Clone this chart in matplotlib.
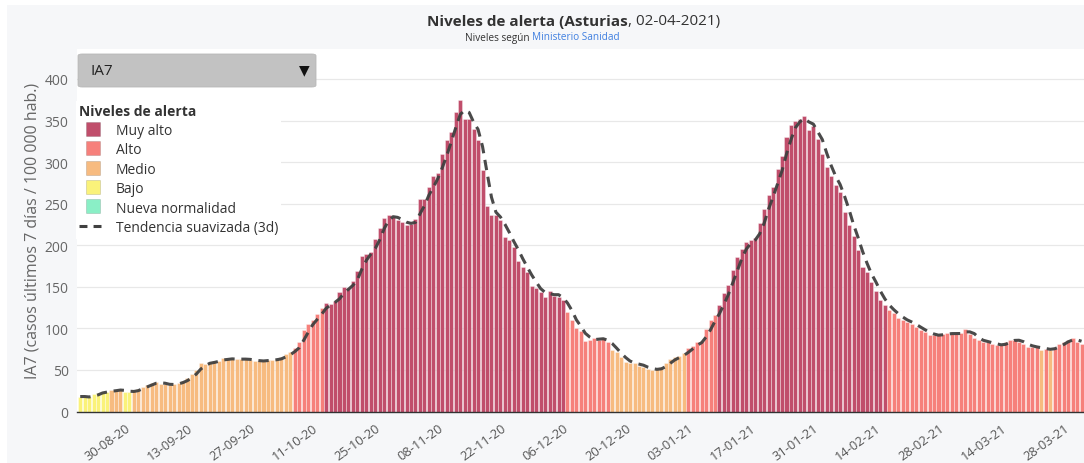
import numpy as np
import pandas as pd
import matplotlib
matplotlib.use("Agg")
import matplotlib.pyplot as plt
from matplotlib.patches import Rectangle, FancyBboxPatch
from matplotlib.lines import Line2D

plt.rcParams['font.family'] = ['Open Sans', 'DejaVu Sans']

# Daily IA7 values, 20-08-2020 .. 01-04-2021
dates = pd.date_range('2020-08-20', '2021-04-01', freq='D')
ia7 = [18, 17.5, 17, 21, 22, 24, 24, 25.3, 25.8, 26.3,
       24, 23, 25.4, 27, 30, 32, 34, 36, 33.5, 32.5,
       32, 33, 34.5, 37, 40, 45, 50.5, 58, 57, 59,
       61, 61, 64, 63, 63, 63, 63, 63, 62, 61,
       60.5, 61, 62, 62, 63, 65, 69, 71, 76, 83,
       98, 105, 110, 117, 124, 131, 129.5, 133.5, 143.5, 149.5,
       148, 157.5, 169.5, 186.5, 189, 192, 207, 220.5, 232.5, 236,
       234.5, 230, 228.5, 224.5, 226, 232, 255, 255.5, 270, 283.5,
       287, 309.5, 327, 336.5, 360, 375, 352, 352, 340, 326,
       290, 247, 236, 236, 230, 210, 206, 197.5, 180.5, 173.5,
       167.5, 151.5, 148.5, 143.5, 137.5, 144.5, 139.5, 137.5, 134, 120,
       110.5, 100, 97, 85, 86.5, 88, 86.5, 88, 83, 74.5,
       71, 65, 59, 58, 58, 55, 54, 51, 50, 51,
       53, 58, 63, 65, 66.5, 70.5, 76, 79, 84, 85,
       99.5, 110.5, 115.5, 127.5, 143, 152, 170, 186, 196, 204,
       206, 208.5, 227, 244, 260, 270, 292, 307, 330, 344,
       350, 351.5, 355.5, 338, 343.5, 328, 310, 294, 283, 272,
       264, 240, 224, 210.5, 194, 174, 167.5, 155.5, 144.5, 134.5,
       127.5, 122, 118, 113, 110, 107.5, 105.5, 101.5, 97.5, 96,
       92, 91.5, 92, 93.5, 94, 93.5, 93.5, 94.5, 99.5, 93.5,
       88, 85.5, 83.5, 83.5, 81.5, 79.5, 79.5, 83.5, 86.5, 86.5,
       84, 81.5, 77.5, 78, 77.5, 74.5, 75.5, 74.5, 76.5, 81.5,
       83.5, 86.5, 88, 84, 81.5]

# Smoothed trend (3d)
trend = [18, 18, 17.5, 18.5, 20, 22.3, 23.3, 24.4, 25, 25.8,
         25.4, 24.4, 24.1, 25.1, 27.5, 29.7, 32, 34, 34.5, 34,
         32.7, 32.5, 33.2, 34.8, 37.2, 40.7, 45.2, 51.2, 55.2, 58,
         59, 60.3, 62, 62.7, 63.3, 63, 63, 63, 62.7, 62,
         61.2, 60.8, 61.2, 61.7, 62.3, 63.3, 65.7, 68.3, 72, 76.7,
         85.7, 95.3, 104.3, 110.7, 117, 124, 128.2, 131.3, 135.5, 142.2,
         147, 151.7, 158.3, 171.2, 181.7, 189.2, 196, 206.5, 220, 229.7,
         234.3, 233.5, 231, 227.7, 226.3, 227.5, 237.7, 247.5, 260.2, 269.7,
         280.2, 293.3, 307.8, 324.2, 341.2, 357.2, 362.3, 359.7, 348, 339.3,
         318.7, 287.7, 257.7, 239.7, 234, 225.3, 215.3, 204.5, 194.7, 183.8,
         173.8, 164.2, 155.8, 147.8, 143.2, 141.8, 140.5, 140.5, 137, 130.5,
         121.5, 110.2, 102.5, 94, 89.5, 86.5, 87, 87.5, 85.8, 81.8,
         76.2, 70.2, 65, 60.7, 58.3, 57, 55.7, 53.3, 51.7, 50.7,
         51.3, 54, 58, 62, 64.8, 67.3, 71, 75.2, 79.7, 82.7,
         89.5, 98.3, 108.5, 117.8, 128.7, 140.8, 155, 169.3, 184, 195.3,
         202, 206.2, 213.8, 226.5, 243.7, 258, 274, 289.7, 309.7, 327,
         341.3, 348.5, 352.3, 348.3, 345.7, 336.5, 327.2, 310.7, 295.7, 283,
         273, 258.7, 242.7, 224.8, 209.5, 192.8, 178.5, 165.7, 155.8, 144.8,
         135.5, 128, 122.5, 117.7, 113.7, 110.2, 107.7, 104.8, 101.5, 98.3,
         95.2, 93.2, 91.8, 92.3, 93.2, 93.7, 93.7, 93.8, 95.8, 95.8,
         93.7, 89, 85.7, 84.2, 82.8, 81.5, 80.2, 80.8, 83.2, 85.5,
         85.7, 84, 81, 79, 77.7, 76.7, 75.8, 74.8, 75.5, 77.5,
         80.5, 83.8, 86, 86.2, 84.5]

levels = ['Muy alto', 'Alto', 'Medio', 'Bajo', 'Nueva normalidad']
level_colors = ['#c04e6b', '#f6807b', '#f7bb80', '#faf27a', '#8aefc6']
thresholds = [10, 25, 75, 125]  # IA7 limits (Ministerio Sanidad)

tick_labels = ['30-08-20', '13-09-20', '27-09-20', '11-10-20', '25-10-20', '08-11-20',
               '22-11-20', '06-12-20', '20-12-20', '03-01-21', '17-01-21', '31-01-21',
               '14-02-21', '28-02-21', '14-03-21', '28-03-21']

W, H = 1084, 464
fig = plt.figure(figsize=(W / 100, H / 100), dpi=100, facecolor='white')

# light gray container behind everything
fig.patches.append(Rectangle((7 / W, 0), 1 - 7 / W, 1 - 6 / H, transform=fig.transFigure,
                             facecolor='#f6f7f9', edgecolor='none', zorder=-10))

ax = fig.add_axes([77 / W, (H - 412.5) / H, (W - 77) / W, (412.5 - 50) / H])
ax.set_facecolor('white')

x = np.arange(len(dates))
vals = np.array(ia7)
idx = np.digitize(vals, thresholds)          # 0 = nueva normalidad ... 4 = muy alto
bar_colors = [level_colors[::-1][k] for k in idx]
ax.bar(x, vals, width=0.9, color=bar_colors, edgecolor=(1, 1, 1, 0.4), lw=0.6, zorder=2)
ax.plot(x, trend, color='#404040', lw=2.2, dashes=(3.4, 2.2), zorder=3, alpha=0.95)

ax.set_xlim(-0.72, len(dates) - 0.45)
ax.set_ylim(0, 436)
ax.set_yticks(np.arange(0, 401, 50))
ax.grid(axis='y', color='#e8e8e8', lw=0.9, zorder=0)
ax.set_axisbelow(True)
for s in ['top', 'right', 'left']:
    ax.spines[s].set_visible(False)
ax.spines['bottom'].set_color('#333333')
ax.spines['bottom'].set_linewidth(1.0)
ax.spines['bottom'].set_zorder(4)

tick_pos = [list(dates.strftime('%d-%m-%y')).index(t) for t in tick_labels]
ax.set_xticks(tick_pos)
ax.set_xticklabels(tick_labels, rotation=36, ha='right', rotation_mode='anchor',
                   fontsize=9.3, color='#555555')
ax.tick_params(axis='x', length=0, pad=7)
ax.tick_params(axis='y', length=0, pad=6, labelsize=10, labelcolor='#666666')
ax.set_ylabel('IA7 (casos últimos 7 días / 100 000 hab.)', fontsize=11.5, color='#666666',
              labelpad=3)

# title and subtitle
fig.text(628 / W, 1 - 22 / H, 'Niveles de alerta (Asturias', ha='right', va='center',
         fontsize=11, fontweight='bold', color='#333333')
fig.text(628 / W, 1 - 22 / H, ', 02-04-2021)', ha='left', va='center',
         fontsize=11, color='#333333')
fig.text(532 / W, 1 - 38 / H, 'Niveles según ', ha='right', va='center',
         fontsize=7.2, color='#333333')
fig.text(532 / W, 1 - 38 / H, 'Ministerio Sanidad', ha='left', va='center',
         fontsize=7.2, color='#3f7fe0')

# dropdown box
fig.patches.append(FancyBboxPatch((78 / W, 1 - 88 / H), 238 / W, 33 / H,
                                  boxstyle='round,pad=0,rounding_size=0.004',
                                  transform=fig.transFigure, facecolor='#c2c2c2',
                                  edgecolor='#b8b8b8', lw=0.6, zorder=5))
fig.text(90 / W, 1 - 71.5 / H, 'IA7', ha='left', va='center', fontsize=11, color='#222222',
         zorder=6)
fig.text(304 / W, 1 - 70 / H, '▼', ha='center', va='center', fontsize=10, color='#111111',
         family=['DejaVu Sans'], zorder=6)

# legend
handles = [Line2D([], [], ls='none', marker='s', markersize=9.5, markerfacecolor=c,
                  markeredgecolor='#00000025', markeredgewidth=0.6) for c in level_colors]
handles.append(Line2D([], [], color='#404040', lw=2.2, dashes=(2.6, 2.0)))
leg = ax.legend(handles, levels + ['Tendencia suavizada (3d)'],
                title='Niveles de alerta', loc='upper left',
                bbox_to_anchor=(76 / W, 1 - 102 / H), bbox_transform=fig.transFigure,
                fontsize=10, frameon=True, facecolor='white', edgecolor='none',
                framealpha=1, fancybox=False, handlelength=2.0, handleheight=0.9,
                handletextpad=0.6, labelspacing=0.32, borderpad=0.25, borderaxespad=0)
leg.get_title().set_fontweight('bold')
leg.get_title().set_fontsize(10)
leg.get_title().set_color('#333333')
leg._legend_box.align = 'left'
for t in leg.get_texts():
    t.set_color('#333333')
leg.set_zorder(6)

fig.savefig('out.png', dpi=100, facecolor=fig.get_facecolor())
